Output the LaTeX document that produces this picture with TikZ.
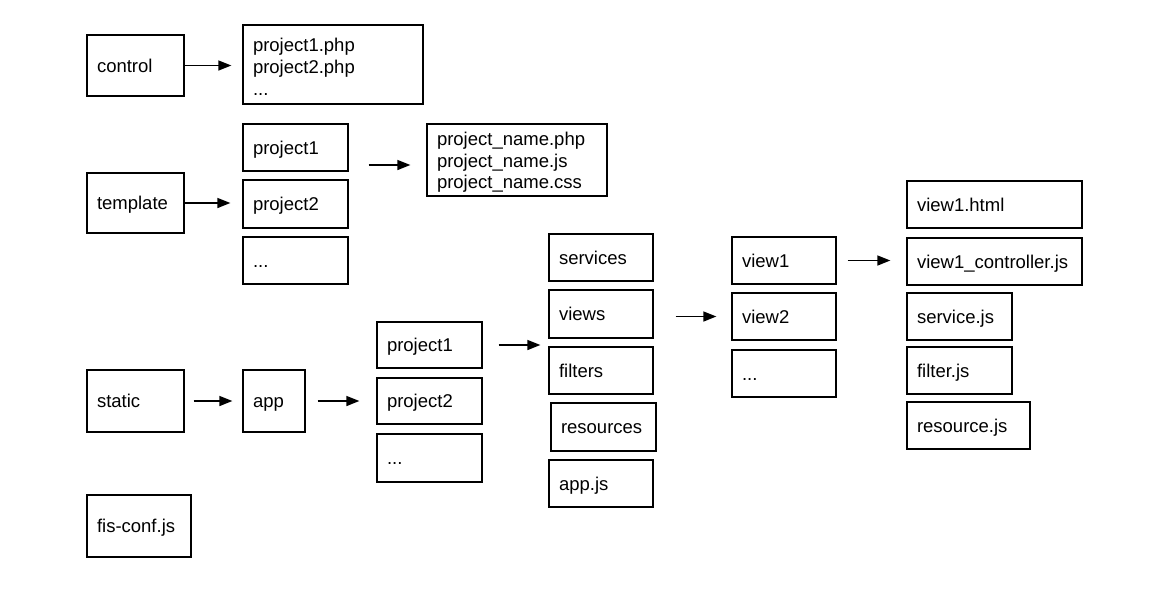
\documentclass[tikz,border=0pt]{standalone}
\usepackage{fontspec}
\setmainfont{Liberation Sans}
\usetikzlibrary{arrows.meta}

% A directory/file box given by its corner coordinates (in pixels, y downwards)
\newcommand\dirbox[7][]{%
  \pgfmathsetmacro\dbw{#5-#3}%
  \pgfmathsetmacro\dbh{#6-#4}%
  \pgfmathsetmacro\dbt{#5-#3-20}%
  \node[entry, #1, minimum width=\dbw pt, minimum height=\dbh pt, text width=\dbt pt]
    (#2) at ({(#3+#5)/2},{(#4+#6)/2}) {#7};}

\begin{document}
\begin{tikzpicture}[x=1pt, y=-1pt,
  entry/.style={draw, line width=1.3pt, inner xsep=10pt, inner ysep=2pt,
    align=left, font=\fontsize{18.5}{22}\selectfont,
    text height=13.3pt, text depth=0pt},
  listing/.style={text depth=39pt},
  arr/.style={draw, line width=1.5pt, -{Triangle[length=13pt,width=10pt]}}]
\useasboundingbox (0,0) rectangle (1158,606);

% top level
\dirbox{control}{87}{35}{184}{96}{control}
\dirbox[listing]{php}{243}{25}{423}{104}{project1.php\\project2.php\\...}
\dirbox{template}{87}{173}{184}{233}{template}
\dirbox{static}{87}{370}{184}{432}{static}
\dirbox{fis}{87}{495}{191}{557}{fis-conf.js}

% template projects
\dirbox{tpa}{243}{124}{348}{171}{project1}
\dirbox{tpb}{243}{180}{348}{228}{project2}
\dirbox{tpc}{243}{237}{348}{284}{...}
\dirbox[listing, text depth=42pt,
  font=\fontsize{18.5}{21.5}\selectfont]{pname}{427}{124}{607}{196}{project\_name.php\\project\_name.js\\project\_name.css}

% static tree
\dirbox{app}{243}{370}{305}{432}{app}
\dirbox{spa}{377}{322}{482}{368}{project1}
\dirbox{spb}{377}{378}{482}{424}{project2}
\dirbox{spc}{377}{434}{482}{482}{...}

\dirbox{services}{549}{234}{653}{281}{services}
\dirbox{views}{549}{290}{653}{338}{views}
\dirbox{filters}{549}{347}{653}{394}{filters}
\dirbox{resources}{551}{403}{656}{451}{resources}
\dirbox{appjs}{549}{460}{653}{507}{app.js}

\dirbox{viewa}{732}{237}{836}{284}{view1}
\dirbox{viewb}{732}{293}{836}{340}{view2}
\dirbox{viewc}{732}{350}{836}{397}{...}

\dirbox{html}{907}{181}{1082}{228}{view1.html}
\dirbox{ctrl}{907}{238}{1082}{285}{view1\_controller.js}
\dirbox{service}{907}{293}{1012}{340}{service.js}
\dirbox{filter}{907}{347}{1012}{394}{filter.js}
\dirbox{resource}{907}{402}{1030}{449}{resource.js}

% connectors
\draw[arr, shorten >=11pt] (control.east) -- (control.east -| php.west);
\draw[arr, shorten >=12pt] (template.east) -- (template.east -| tpb.west);
\draw[arr, shorten <=20pt, shorten >=16pt]
  ([yshift=-5pt]pname.west -| tpa.east) -- ([yshift=-5pt]pname.west);
\draw[arr, shorten <=9pt, shorten >=10pt] (static.east) -- (static.east -| app.west);
\draw[arr, shorten <=12pt, shorten >=17pt] (app.east) -- (app.east -| spb.west);
\draw[arr, shorten <=16pt, shorten >=8pt] (spa.east) -- (spa.east -| filters.west);
\draw[arr, shorten <=22pt, shorten >=15pt] (views.east |- viewb.west) -- (viewb.west);
\draw[arr, shorten <=11pt, shorten >=16pt] (viewa.east) -- (viewa.east -| ctrl.west);
\end{tikzpicture}
\end{document}
